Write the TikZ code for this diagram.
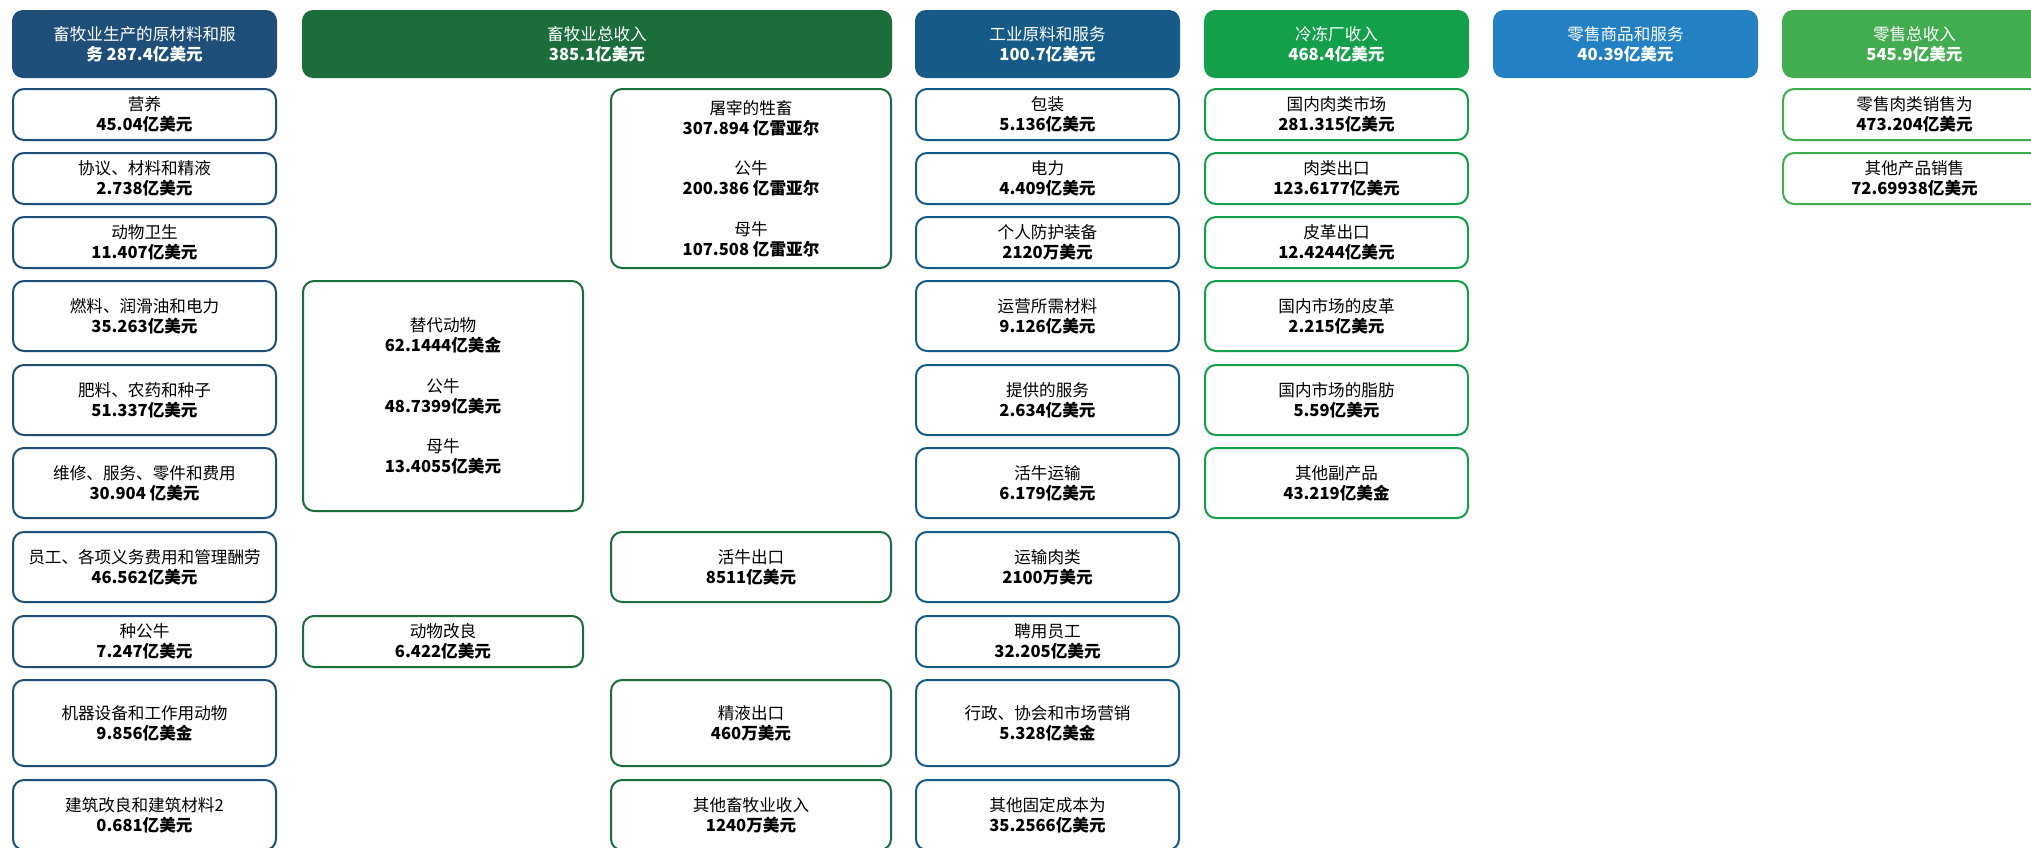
\documentclass[tikz,border=0pt]{standalone}
\usepackage{fontspec}
\setmainfont{Noto Sans CJK SC}
\definecolor{cA}{HTML}{1F4E79}
\definecolor{cB}{HTML}{1B6D3B}
\definecolor{cC}{HTML}{165A88}
\definecolor{cD}{HTML}{14A04A}
\definecolor{cE}{HTML}{2380C3}
\definecolor{cF}{HTML}{42AD50}
\tikzset{
  cell/.style={draw, rounded corners=11pt, line width=2pt, fill=white, align=center,
    inner sep=0pt, font=\fontsize{16.6}{20.3}\selectfont, text=black},
  headbox/.style={rounded corners=11pt, align=center, inner sep=0pt,
    font=\fontsize{16.6}{20.3}\selectfont, text=white},
}
% name, x1, y1, x2, y2, style, text (outer pixel edges)
\newcommand\cellat[7]{\node[#6, minimum width={(#4-#2-2)*1pt}, minimum height={(#5-#3-2)*1pt}] (#1) at ({(#2+#4)/2},{(#3+#5)/2}) {#7};}
\newcommand\headat[7]{\node[headbox, fill=#6, minimum width={(#4-#2)*1pt}, minimum height={(#5-#3)*1pt}] (#1) at ({(#2+#4)/2},{(#3+#5)/2}) {#7};}
\begin{document}
\begin{tikzpicture}[x=1pt,y=-1pt]
\useasboundingbox (0,0) rectangle (2031,847);
\fill[white] (0,0) rectangle (2031,847);
\clip (0,0) rectangle (2031,847);
% ---------- column 1 ----------
\headat{hA}{12}{10}{277}{78}{cA}{畜牧业生产的原材料和服\\\textbf{务 287.4亿美元}}
\cellat{a1}{12}{88}{277}{141}{cell,draw=cA}{营养\\\textbf{45.04亿美元}}
\cellat{a2}{12}{152}{277}{205}{cell,draw=cA}{协议、材料和精液\\\textbf{2.738亿美元}}
\cellat{a3}{12}{216}{277}{269}{cell,draw=cA}{动物卫生\\\textbf{11.407亿美元}}
\cellat{a4}{12}{280}{277}{352}{cell,draw=cA}{燃料、润滑油和电力\\\textbf{35.263亿美元}}
\cellat{a5}{12}{364}{277}{436}{cell,draw=cA}{肥料、农药和种子\\\textbf{51.337亿美元}}
\cellat{a6}{12}{447}{277}{519}{cell,draw=cA}{维修、服务、零件和费用\\\textbf{30.904 亿美元}}
\cellat{a7}{12}{531}{277}{603}{cell,draw=cA}{员工、各项义务费用和管理酬劳\\\textbf{46.562亿美元}}
\cellat{a8}{12}{615}{277}{668}{cell,draw=cA}{种公牛\\\textbf{7.247亿美元}}
\cellat{a9}{12}{679}{277}{767}{cell,draw=cA}{机器设备和工作用动物\\\textbf{9.856亿美金}}
\cellat{a10}{12}{779}{277}{851}{cell,draw=cA}{建筑改良和建筑材料2\\\textbf{0.681亿美元}}
% ---------- column 2 ----------
\headat{hB}{302}{10}{892}{78}{cB}{畜牧业总收入\\\textbf{385.1亿美元}}
\cellat{b1}{610}{88}{892}{269}{cell,draw=cB}{屠宰的牲畜\\\textbf{307.894 亿雷亚尔}\\[20pt]公牛\\\textbf{200.386 亿雷亚尔}\\[20pt]母牛\\\textbf{107.508 亿雷亚尔}}
\cellat{b2}{302}{280}{584}{512}{cell,draw=cB}{替代动物\\\textbf{62.1444亿美金}\\[20pt]公牛\\\textbf{48.7399亿美元}\\[20pt]母牛\\\textbf{13.4055亿美元}}
\cellat{b3}{610}{531}{892}{603}{cell,draw=cB}{活牛出口\\\textbf{8511亿美元}}
\cellat{b4}{302}{615}{584}{668}{cell,draw=cB}{动物改良\\\textbf{6.422亿美元}}
\cellat{b5}{610}{679}{892}{767}{cell,draw=cB}{精液出口\\\textbf{460万美元}}
\cellat{b6}{610}{779}{892}{851}{cell,draw=cB}{其他畜牧业收入\\\textbf{1240万美元}}
% ---------- column 3 ----------
\headat{hC}{915}{10}{1180}{78}{cC}{工业原料和服务\\\textbf{100.7亿美元}}
\cellat{c1}{915}{88}{1180}{141}{cell,draw=cC}{包装\\\textbf{5.136亿美元}}
\cellat{c2}{915}{152}{1180}{205}{cell,draw=cC}{电力\\\textbf{4.409亿美元}}
\cellat{c3}{915}{216}{1180}{269}{cell,draw=cC}{个人防护装备\\\textbf{2120万美元}}
\cellat{c4}{915}{280}{1180}{352}{cell,draw=cC}{运营所需材料\\\textbf{9.126亿美元}}
\cellat{c5}{915}{364}{1180}{436}{cell,draw=cC}{提供的服务\\\textbf{2.634亿美元}}
\cellat{c6}{915}{447}{1180}{519}{cell,draw=cC}{活牛运输\\\textbf{6.179亿美元}}
\cellat{c7}{915}{531}{1180}{603}{cell,draw=cC}{运输肉类\\\textbf{2100万美元}}
\cellat{c8}{915}{615}{1180}{668}{cell,draw=cC}{聘用员工\\\textbf{32.205亿美元}}
\cellat{c9}{915}{679}{1180}{767}{cell,draw=cC}{行政、协会和市场营销\\\textbf{5.328亿美金}}
\cellat{c10}{915}{779}{1180}{851}{cell,draw=cC}{其他固定成本为\\\textbf{35.2566亿美元}}
% ---------- column 4 ----------
\headat{hD}{1204}{10}{1469}{78}{cD}{冷冻厂收入\\\textbf{468.4亿美元}}
\cellat{d1}{1204}{88}{1469}{141}{cell,draw=cD}{国内肉类市场\\\textbf{281.315亿美元}}
\cellat{d2}{1204}{152}{1469}{205}{cell,draw=cD}{肉类出口\\\textbf{123.6177亿美元}}
\cellat{d3}{1204}{216}{1469}{269}{cell,draw=cD}{皮革出口\\\textbf{12.4244亿美元}}
\cellat{d4}{1204}{280}{1469}{352}{cell,draw=cD}{国内市场的皮革\\\textbf{2.215亿美元}}
\cellat{d5}{1204}{364}{1469}{436}{cell,draw=cD}{国内市场的脂肪\\\textbf{5.59亿美元}}
\cellat{d6}{1204}{447}{1469}{519}{cell,draw=cD}{其他副产品\\\textbf{43.219亿美金}}
% ---------- column 5 ----------
\headat{hE}{1493}{10}{1758}{78}{cE}{零售商品和服务\\\textbf{40.39亿美元}}
% ---------- column 6 ----------
\headat{hF}{1782}{10}{2047}{78}{cF}{零售总收入\\\textbf{545.9亿美元}}
\cellat{f1}{1782}{88}{2047}{141}{cell,draw=cF}{零售肉类销售为\\\textbf{473.204亿美元}}
\cellat{f2}{1782}{152}{2047}{205}{cell,draw=cF}{其他产品销售\\\textbf{72.69938亿美元}}
\end{tikzpicture}
\end{document}
